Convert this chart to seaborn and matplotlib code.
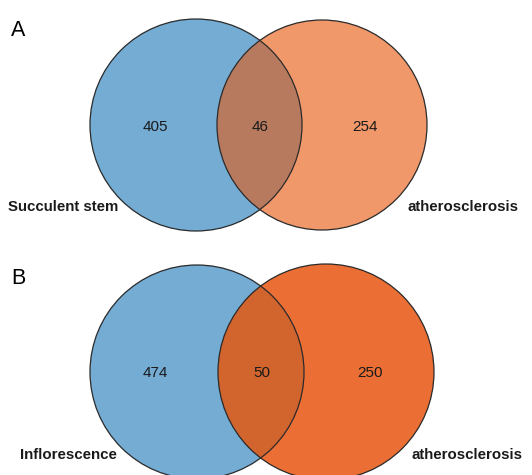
import matplotlib
matplotlib.use("Agg")
import matplotlib.pyplot as plt
from matplotlib.patches import Circle
import seaborn as sns

sns.set_theme(style="white")
plt.rcParams["font.family"] = ["Liberation Sans", "DejaVu Sans"]

# Panel data: set names and region counts (left only, shared, right only)
panel_letters = ["A", "B"]
left_names = ["Succulent stem", "Inflorescence"]
right_names = ["atherosclerosis", "atherosclerosis"]
left_only = [405, 474]
shared = [46, 50]
right_only = [254, 250]

left_colors = ["#74acd4", "#74acd4"]
right_colors = ["#f0986a", "#eb6f34"]
overlap_colors = ["#b87a5e", "#d2642e"]

# Layout (figure pixel coordinates)
panels = [
    dict(lc=(196, 125), lr=106, rc=(322, 125), rr=105,
         letter=(11, 30), lab_y=207, lab_l=8, lab_r=518,
         txt_y=127, txt_x=(155, 260, 365)),
    dict(lc=(197, 372), lr=107, rc=(326, 372), rr=108,
         letter=(11, 279), lab_y=455, lab_l=20, lab_r=523,
         txt_y=373, txt_x=(155, 262, 370)),
]

fig = plt.figure(figsize=(5.32, 4.75), dpi=100)
ax = fig.add_axes([0, 0, 1, 1])
ax.set_xlim(0, 532)
ax.set_ylim(475, 0)
ax.set_aspect("equal")
ax.axis("off")

for i, p in enumerate(panels):
    c_left = Circle(p["lc"], p["lr"], facecolor=left_colors[i], edgecolor="none", zorder=1)
    c_right = Circle(p["rc"], p["rr"], facecolor=right_colors[i], edgecolor="none", zorder=2)
    ax.add_patch(c_left)
    ax.add_patch(c_right)
    # shared region: left circle clipped to the right one
    lens = Circle(p["lc"], p["lr"], facecolor=overlap_colors[i], edgecolor="none", zorder=3)
    ax.add_patch(lens)
    clip = Circle(p["rc"], p["rr"], transform=ax.transData)
    lens.set_clip_path(clip)
    for cen, r in [(p["lc"], p["lr"]), (p["rc"], p["rr"])]:
        ax.add_patch(Circle(cen, r, facecolor="none", edgecolor="#2a2a2a", lw=0.9, zorder=4))

    for x, val in zip(p["txt_x"], [left_only[i], shared[i], right_only[i]]):
        ax.text(x, p["txt_y"], str(val), ha="center", va="center", fontsize=11,
                color="#1a1a1a", zorder=5)

    ax.text(p["lab_l"], p["lab_y"], left_names[i], ha="left", va="center",
            fontsize=10.8, fontweight="bold", color="#1a1a1a", zorder=5)
    ax.text(p["lab_r"], p["lab_y"], right_names[i], ha="right", va="center",
            fontsize=10.8, fontweight="bold", color="#1a1a1a", zorder=5)
    ax.text(p["letter"][0], p["letter"][1], panel_letters[i], ha="left", va="center",
            fontsize=15.5, color="black", zorder=5)

fig.savefig("out.png", dpi=100, facecolor="white")
